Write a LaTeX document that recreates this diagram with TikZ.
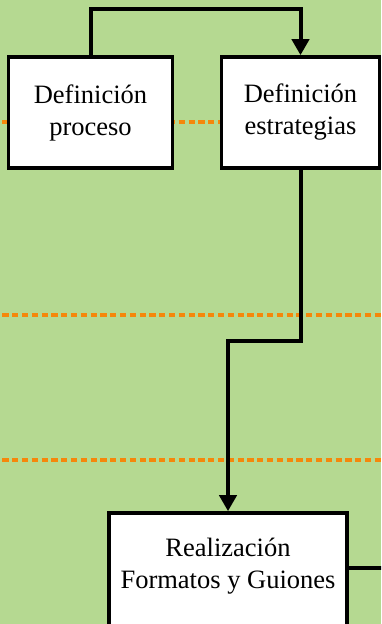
\documentclass[tikz,border=0pt]{standalone}
\usepackage{fontspec}
\setmainfont{Liberation Serif}
\usetikzlibrary{arrows.meta}
\definecolor{bggreen}{RGB}{181,217,145}
\definecolor{dashorange}{RGB}{245,135,10}
\tikzset{
  procbox/.style={draw=black, line width=3.6pt, fill=white, inner sep=0pt, align=center,
    font=\fontsize{26.5}{32}\selectfont},
  conn/.style={draw=black, line width=4pt},
  arr/.style={conn, -{Triangle[width=17pt,length=16pt]}},
  sep/.style={draw=dashorange, line width=3.2pt, dash pattern=on 6.3pt off 3.5pt, dash phase=-2.3pt}
}
\begin{document}
\begin{tikzpicture}[x=1pt,y=1pt]
  \useasboundingbox (0,0) rectangle (381,-624);
  \clip (0,0) rectangle (381,-624);
  \fill[bggreen] (0,0) rectangle (381,-624);
  % separators
  \draw[sep] (0,-122) -- (381,-122);
  \draw[sep] (0,-315) -- (381,-315);
  \draw[sep] (0,-460) -- (381,-460);
  % boxes
  \node[procbox, minimum width=164pt, minimum height=111pt] (b1) at (90.5,-112.5) {Definición\\proceso};
  \node[procbox, minimum width=158pt, minimum height=111pt] (b2) at (300.5,-112.5) {Definición\\estrategias};
  \node[procbox, minimum width=238pt, minimum height=124pt] (b3) at (228,-575) {};
  \node[font=\fontsize{26.5}{32}\selectfont, align=center, inner sep=0pt] (b3t) at (228,-566) {Realización\\Formatos y Guiones};
  % coordinates
  \coordinate (c1) at (90.5,-9);
  \coordinate (c2) at (300.5,-9);
  \coordinate (c3) at (300.5,-341);
  \coordinate (c4) at (228,-341);
  \coordinate (cout) at (390,-568);
  % connectors
  \draw[arr, line join=miter] (b1.north) -- (c1) -- (c2) -- (b2.north);
  \draw[arr, line join=miter] (b2.south) -- (c3) -- (c4) -- (b3.north);
  \draw[conn] (b3.east |- 0,-568) -- (cout);
\end{tikzpicture}
\end{document}
